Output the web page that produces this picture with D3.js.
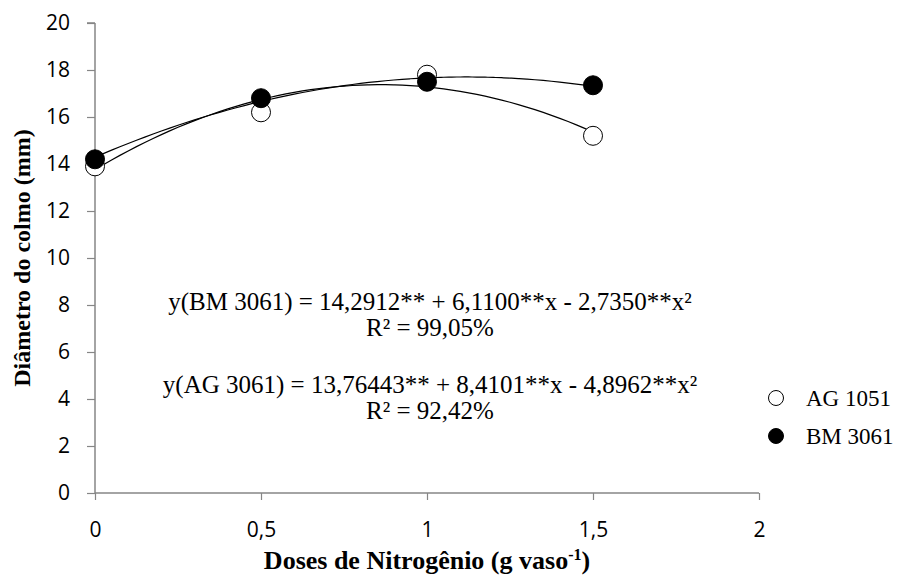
<!DOCTYPE html>
<html>
<head>
<meta charset="utf-8">
<script src="https://cdn.jsdelivr.net/npm/d3@7"></script>
<style>
body { margin: 0; background: #fff; }
</style>
</head>
<body>
<div id="chart"></div>
<script>
// doses (x) and measured stem diameter per hybrid
const doses = [0, 0.5, 1, 1.5];
const ag1051 = [13.9, 16.2, 17.8, 15.2];
const bm3061 = [14.2, 16.8, 17.5, 17.35];

// quadratic fits as printed on the chart (b0, b1, b2)
const fitBM = [14.2912, 6.1100, -2.7350];
const fitAG = [13.76443, 8.4101, -4.8962];

const xTicks = [0, 0.5, 1, 1.5, 2];
const yTicks = [0, 2, 4, 6, 8, 10, 12, 14, 16, 18, 20];

const eqLines = [
  "y(BM 3061) = 14,2912** + 6,1100**x - 2,7350**x²",
  "R² = 99,05%",
  "y(AG 3061) = 13,76443** + 8,4101**x - 4,8962**x²",
  "R² = 92,42%"
];

var width = 907, height = 580;
var margin = {top: 23, right: 148, bottom: 87, left: 95};

var svg = d3.select("#chart").append("svg")
  .attr("width", width)
  .attr("height", height);

var x = d3.scaleLinear().domain([0, 2]).range([margin.left, width - margin.right]);
var y = d3.scaleLinear().domain([0, 20]).range([height - margin.bottom, margin.top]);

var fmt = function(d){ return String(d).replace(".", ","); };
var serif = "'Liberation Serif', 'Times New Roman', serif";

// y axis
var yAxis = svg.append("g")
  .attr("transform", "translate(" + margin.left + ",0)")
  .call(d3.axisLeft(y).tickValues(yTicks).tickSize(8).tickPadding(17).tickFormat(fmt));
// x axis
var xAxis = svg.append("g")
  .attr("transform", "translate(0," + y(0) + ")")
  .call(d3.axisBottom(x).tickValues(xTicks).tickSize(7).tickPadding(22).tickFormat(fmt));

[yAxis, xAxis].forEach(function(a){
  a.select(".domain").attr("stroke", "#868686").attr("stroke-width", 1.5);
  a.selectAll(".tick line").attr("stroke", "#868686").attr("stroke-width", 1.2);
  a.selectAll(".tick text")
    .attr("fill", "#000")
    .style("font-family", "'Open Sans', 'DejaVu Sans', sans-serif")
    .style("font-size", "21px");
});
yAxis.select(".domain").attr("d", "M0," + y(0) + "V" + y(20) + "M-8," + y(20) + "H0");
xAxis.select(".domain").attr("d", "M" + x(0) + ",0H" + x(2));

// fitted curves
function curvePts(c){
  var pts = [];
  for (var i = 0; i <= 60; i++) {
    var xv = 1.5 * i / 60;
    pts.push([xv, c[0] + c[1] * xv + c[2] * xv * xv]);
  }
  return pts;
}
var line = d3.line().x(function(d){ return x(d[0]); }).y(function(d){ return y(d[1]); }).curve(d3.curveMonotoneX);
[fitAG, fitBM].forEach(function(c){
  svg.append("path")
    .attr("d", line(curvePts(c)))
    .attr("fill", "none")
    .attr("stroke", "#000")
    .attr("stroke-width", 1.2);
});

// markers
svg.append("g").selectAll("circle")
  .data(doses)
  .enter().append("circle")
  .attr("cx", function(d){ return x(d); })
  .attr("cy", function(d, i){ return y(ag1051[i]); })
  .attr("r", 9.5)
  .attr("fill", "#fff")
  .attr("stroke", "#000")
  .attr("stroke-width", 1);

svg.append("g").selectAll("circle")
  .data(doses)
  .enter().append("circle")
  .attr("cx", function(d){ return x(d); })
  .attr("cy", function(d, i){ return y(bm3061[i]); })
  .attr("r", 9.5)
  .attr("fill", "#000")
  .attr("stroke", "#000");

// equations
var eqY = [301, 327, 384, 410];
svg.append("g").selectAll("text")
  .data(eqLines)
  .enter().append("text")
  .attr("x", 430)
  .attr("y", function(d, i){ return eqY[i]; })
  .attr("dy", "0.35em")
  .attr("text-anchor", "middle")
  .style("font-family", serif)
  .style("font-size", "25px")
  .text(function(d){ return d; });

// legend
var legend = [["AG 1051", "#fff"], ["BM 3061", "#000"]];
legend.forEach(function(l, i){
  var ly = 398 + i * 38;
  svg.append("circle")
    .attr("cx", 776).attr("cy", ly).attr("r", 7.5)
    .attr("fill", l[1]).attr("stroke", "#000").attr("stroke-width", 1);
  svg.append("text")
    .attr("x", 806).attr("y", ly).attr("dy", "0.35em")
    .style("font-family", serif)
    .style("font-size", "23px")
    .text(l[0]);
});

// axis titles
svg.append("text")
  .attr("transform", "translate(22," + ((y(0) + y(20)) / 2) + ") rotate(-90)")
  .attr("text-anchor", "middle")
  .attr("dy", "0.35em")
  .style("font-family", serif)
  .style("font-size", "24px")
  .style("font-weight", "bold")
  .text("Diâmetro do colmo (mm)");

var xt = svg.append("text")
  .attr("x", 427)
  .attr("y", 569)
  .attr("text-anchor", "middle")
  .style("font-family", serif)
  .style("font-size", "26px")
  .style("font-weight", "bold");
xt.append("tspan").text("Doses de Nitrogênio (g vaso");
xt.append("tspan").attr("dy", -9).style("font-size", "16px").text("-1");
xt.append("tspan").attr("dy", 9).text(")");
</script>
</body>
</html>
